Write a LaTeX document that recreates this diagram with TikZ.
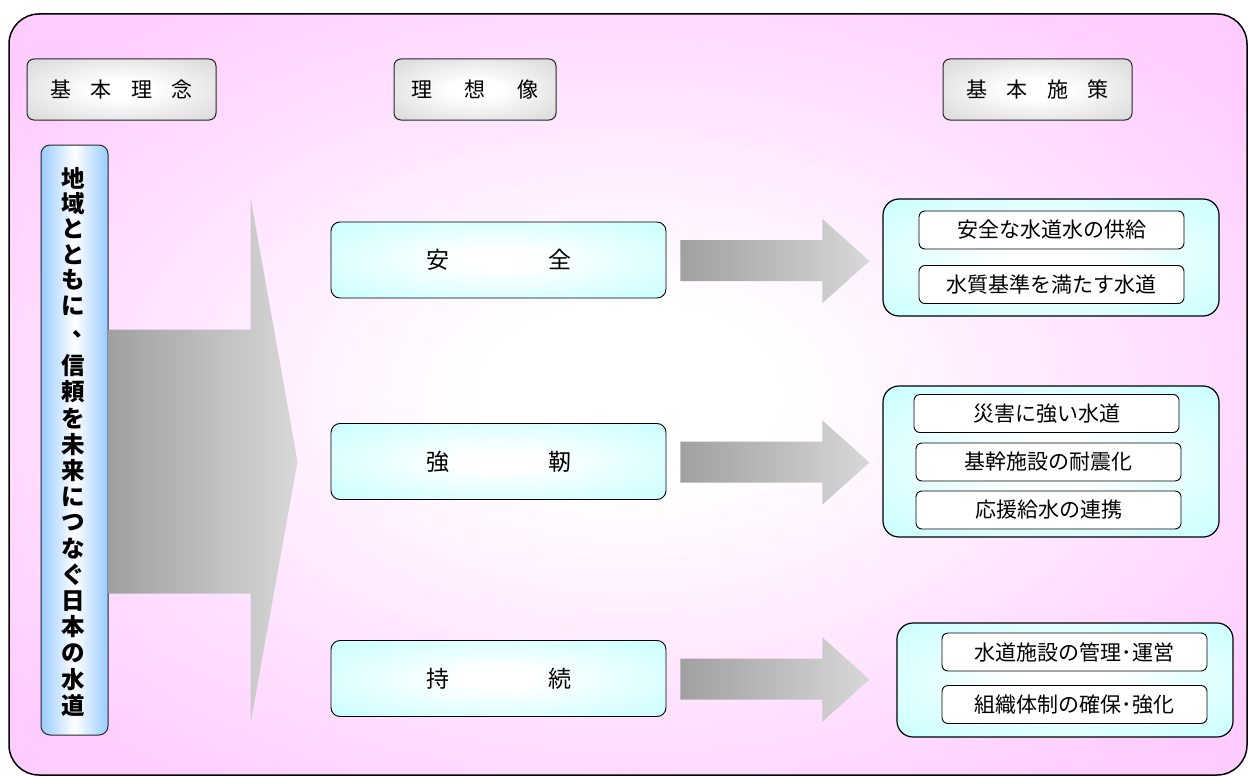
\documentclass[tikz,border=0pt]{standalone}
\usepackage{fontspec}
\setmainfont{Noto Sans CJK JP}
\usetikzlibrary{calc}
\definecolor{bgpink}{HTML}{FFCCFF}
\definecolor{hdrgray}{HTML}{CFCFCF}
\definecolor{boxcyan}{HTML}{CCFFFF}
\definecolor{vblue}{HTML}{99CCFF}
\definecolor{arrdark}{HTML}{A0A0A0}
\definecolor{arrlight}{HTML}{D8D8D8}
\pgfdeclareradialshading{bgshade}{\pgfpoint{0bp}{0bp}}{color(0bp)=(white); color(6bp)=(white); color(32bp)=(bgpink); color(50bp)=(bgpink)}
\pgfdeclareradialshading{hdrshade}{\pgfpoint{0bp}{0bp}}{color(0bp)=(white); color(8bp)=(white); color(42bp)=(hdrgray); color(50bp)=(hdrgray)}
\pgfdeclareradialshading{cyanshade}{\pgfpoint{0bp}{0bp}}{color(0bp)=(white); color(6bp)=(white); color(34bp)=(boxcyan); color(50bp)=(boxcyan)}
\tikzset{
  hdr/.style={draw=black!85, line width=1pt, rounded corners=7pt, shade, shading=hdrshade,
    minimum height=61pt, inner sep=0pt, font=\fontsize{21}{24}\selectfont},
  midbox/.style={draw=black, line width=0.9pt, rounded corners=9pt, shade, shading=cyanshade,
    minimum width=335pt, minimum height=76pt, inner sep=0pt, font=\fontsize{23}{26}\selectfont},
  grp/.style={draw=black, line width=1.2pt, rounded corners=16pt, shade, shading=cyanshade,
    minimum width=336pt, inner sep=0pt},
  itm/.style={draw=black, line width=0.9pt, rounded corners=6pt, fill=white,
    minimum width=265pt, minimum height=38pt, inner sep=0pt, font=\fontsize{21}{24}\selectfont},
  vbox/.style={draw=black!85, line width=1pt, rounded corners=9pt,
    left color=vblue, right color=vblue, middle color=white,
    minimum width=67pt, minimum height=590pt, inner sep=0pt},
  vch/.style={inner sep=0pt, font=\fontsize{23.5}{26}\selectfont\bfseries},
  blockarrow/.style={left color=arrdark, right color=arrlight, draw=none},
}
\begin{document}
\begin{tikzpicture}[x=1pt,y=-1pt]
\useasboundingbox (0,0) rectangle (1248,776);
% background frame
\path[draw=black, line width=1.5pt, rounded corners=30pt, shade, shading=bgshade]
  (9,14) rectangle (1247,775);

% headers
\node[hdr, minimum width=189pt] (h1) at (121.5,89.5) {\makebox[143pt]{基\hfill 本\hfill 理\hfill 念}};
\node[hdr, minimum width=162pt] (h2) at (475,89.5) {\makebox[127pt]{理\hfill 想\hfill 像}};
\node[hdr, minimum width=189pt] (h3) at (1037.5,89.5) {\makebox[142pt]{基\hfill 本\hfill 施\hfill 策}};

% vertical box
\node[vbox] (vb) at (74.5,440) {};
\foreach \c [count=\i from 0] in {地,域,と,と,も,に}
  \node[vch] (va\i) at (73,{178+25.5*\i}) {\c};
\node[vch] (vcomma) at (84,334) {、};
\foreach \c [count=\i from 0] in {信,頼,を,未,来,に,つ,な,ぐ,日,本,の,水,道}
  \node[vch] (vb\i) at (73,{366+26.1*\i}) {\c};

% middle boxes
\node[midbox] (m1) at (498.5,260) {\makebox[145pt]{安\hfill 全}};
\node[midbox] (m2) at (498.5,461.5) {\makebox[145pt]{強\hfill 靭}};
\node[midbox] (m3) at (498.5,678.5) {\makebox[145pt]{持\hfill 続}};

% big arrow
\coordinate (ba) at (vb.east |- m2.west);
\path[blockarrow] ($(ba)+(0,-132)$) -- ($(ba)+(142,-132)$) -- ($(ba)+(142,-264)$)
  -- ($(ba)+(189,0)$) -- ($(ba)+(142,262)$) -- ($(ba)+(142,132)$) -- ($(ba)+(0,132)$) -- cycle;

% small arrows
\foreach \m in {m1,m2,m3}{
  \path[blockarrow] ($(\m.east)+(14,-20)$) -- ($(\m.east)+(156,-20)$) -- ($(\m.east)+(156,-41)$)
    -- ($(\m.east)+(203,1)$) -- ($(\m.east)+(156,43)$) -- ($(\m.east)+(156,21)$)
    -- ($(\m.east)+(14,21)$) -- cycle;
}

% right groups
\node[grp, minimum height=117pt] (g1) at (1051,257.5) {};
\node[grp, minimum height=151pt] (g2) at (1051,461.5) {};
\node[grp, minimum height=114pt] (g3) at (1065,680) {};

\node[itm] (g1a) at (1051.5,230) {安全な水道水の供給};
\node[itm] (g1b) at (1051.5,284.5) {水質基準を満たす水道};
\node[itm] (g2a) at (1046.5,413.5) {災害に強い水道};
\node[itm] (g2b) at (1048.5,462) {基幹施設の耐震化};
\node[itm] (g2c) at (1048.5,510) {応援給水の連携};
\node[itm] (g3a) at (1074.5,652) {水道施設の管理･運営};
\node[itm] (g3b) at (1074.5,704.5) {組織体制の確保･強化};
\end{tikzpicture}
\end{document}
